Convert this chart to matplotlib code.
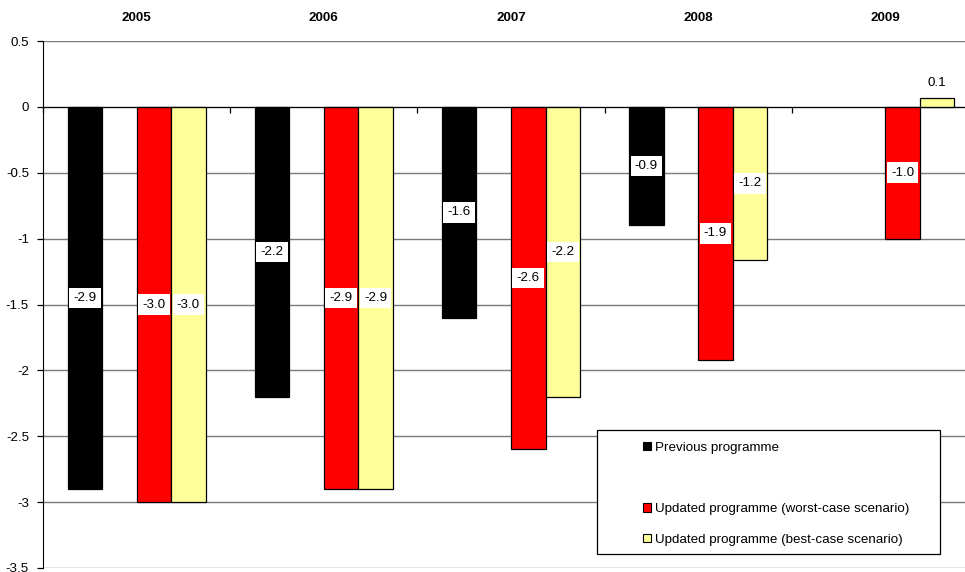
import numpy as np
import matplotlib
matplotlib.use("Agg")
import matplotlib.pyplot as plt
from matplotlib.patches import Patch, Rectangle
import matplotlib.transforms as mtransforms

plt.rcParams['font.family'] = ['Liberation Sans', 'DejaVu Sans']

years = ["2005", "2006", "2007", "2008", "2009"]
series_names = ["Previous programme", "", "Updated programme (worst-case scenario)",
                "Updated programme (best-case scenario)"]
previous = [-2.9, -2.2, -1.6, -0.9, np.nan]
spacer = [np.nan, np.nan, np.nan, np.nan, np.nan]
worst_case = [-3.0, -2.9, -2.6, -1.92, -1.0]
best_case = [-3.0, -2.9, -2.2, -1.16, 0.07]
colors = ["#000000", "none", "#FF0000", "#FFFF99"]

fs = 9.6
fig = plt.figure(figsize=(9.65, 5.72), dpi=100)
ax = fig.add_axes([43 / 965, 4 / 572, 936 / 965, 527 / 572])

x = np.arange(len(years))
w = 0.1845
all_series = [previous, spacer, worst_case, best_case]
handles = []
for k, (vals, col) in enumerate(zip(all_series, colors)):
    vals = np.array(vals, dtype=float)
    pos = x + (k - 1.5) * w
    if k == 1:
        handles.append(Patch(facecolor="none", edgecolor="none"))
        continue
    mask = ~np.isnan(vals)
    ax.bar(pos[mask], vals[mask], width=w, color=col, edgecolor="black",
           linewidth=0.9, zorder=3)
    handles.append(Patch(facecolor=col, edgecolor="black", linewidth=0.8))
    for p, v in zip(pos[mask], vals[mask]):
        lbl = f"{v:.1f}"
        if v < 0:
            ax.text(p, v / 2, lbl, ha="center", va="center", fontsize=fs, zorder=5,
                    bbox=dict(boxstyle="square,pad=0.32", facecolor="white",
                              edgecolor="none"))
        else:
            ax.annotate(lbl, (p, v), xytext=(0, 6), textcoords="offset points",
                        ha="center", va="bottom", fontsize=fs, zorder=5)

ax.set_xlim(-0.5, len(years) - 0.5)
ax.set_ylim(-3.5, 0.5)
ax.set_yticks(np.arange(-3.5, 0.51, 0.5))
ax.set_yticklabels([f"{t:g}" for t in np.arange(-3.5, 0.51, 0.5)], fontsize=fs)
ax.yaxis.grid(True, color="#7a7a7a", linewidth=1.0, zorder=0)
ax.set_axisbelow(True)

for s in ["top", "right"]:
    ax.spines[s].set_visible(False)
ax.spines["left"].set_color("black")
ax.spines["bottom"].set_position(("data", 0))
ax.spines["bottom"].set_zorder(4)
ax.set_xticks(np.arange(-0.5, len(years), 1.0))
ax.set_xticklabels([])
ax.tick_params(axis="x", direction="out", length=4, width=0.9)
ax.tick_params(axis="y", direction="out", length=4, width=0.9, pad=6)

# category labels along the top
trans = mtransforms.blended_transform_factory(ax.transData, ax.transAxes)
for i, yr in enumerate(years):
    ax.text(i, 1 + 23 / 527, yr, transform=trans, ha="center", va="center",
            fontsize=fs, fontweight="bold")

# legend frame and entries
fig.patches.append(Rectangle((597 / 965, 1 - 554 / 572), 343 / 965, 124 / 572,
                             transform=fig.transFigure, facecolor="white",
                             edgecolor="black", linewidth=0.9, zorder=6))
leg = fig.legend(handles, series_names, loc="upper left",
                 bbox_to_anchor=(636 / 965, 1 - 435 / 572), frameon=False,
                 fontsize=fs, handlelength=0.6, handleheight=0.6,
                 handletextpad=0.3, labelspacing=1.4, borderpad=0.0)
leg.set_zorder(7)

fig.savefig("out.png", dpi=100)
